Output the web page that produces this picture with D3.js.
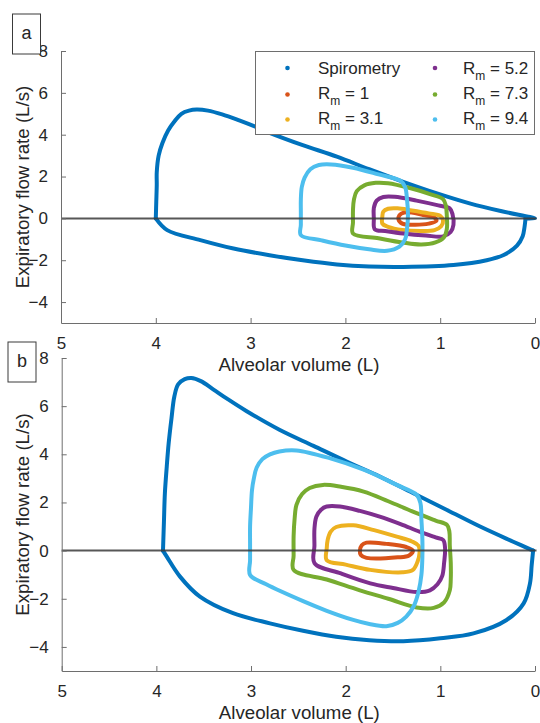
<!DOCTYPE html>
<html>
<head>
<meta charset="utf-8">
<script src="https://cdn.jsdelivr.net/npm/d3@7"></script>
<style>
  html, body { margin: 0; padding: 0; background: #fff; }
  svg { display: block; font-family: "Liberation Sans", Arial, Helvetica, sans-serif; }
</style>
</head>
<body>
<svg id="chart" width="540" height="723"></svg>
<script>
// Axis ticks
const volumeTicks = [5, 4, 3, 2, 1, 0];
const flowTicks = [-4, -2, 0, 2, 4, 6, 8];

// Legend entries (R_m values for the model loops)
const seriesNames = ["Spirometry", "1", "3.1", "5.2", "7.3", "9.4"];
const seriesColors = ["#0072BD", "#D95319", "#EDB120", "#7E2F8E", "#77AC30", "#4DBEEE"];

// Panel a: spirometry, expiratory and inspiratory limbs [volume (L), flow (L/s)]
const spiroExpA = [[4.00,0],[3.995,0.8],[3.99,1.6],[3.99,2.2],[3.97,3.0],[3.93,3.6],[3.87,4.2],[3.80,4.65],[3.73,5.0],[3.65,5.15],[3.57,5.2],[3.45,5.15],[3.30,4.97],[3.12,4.68],[2.95,4.38],[2.80,4.09],[2.45,3.5],[2.09,2.95],[1.75,2.35],[1.39,1.75],[1.05,1.22],[0.69,0.72],[0.35,0.34],[0.0,0.0],[0.10,0.0]];
const spiroInspA = [[0.10,0.0],[0.11,-0.4],[0.13,-0.85],[0.19,-1.3],[0.33,-1.75],[0.51,-2.0],[0.86,-2.23],[1.39,-2.32],[1.75,-2.3],[2.09,-2.2],[2.45,-2.0],[2.80,-1.76],[3.18,-1.44],[3.53,-1.04],[3.88,-0.56],[4.00,0]];
// Panel a: model loops
const rm1A = [[1.44,-0.05],[1.43,0.15],[1.38,0.28],[1.30,0.28],[1.18,0.16],[1.06,0.04],[1.04,-0.12],[1.12,-0.25],[1.28,-0.3],[1.40,-0.25]];
const rm31A = [[1.61,-0.25],[1.61,0.1],[1.60,0.32],[1.55,0.46],[1.45,0.48],[1.30,0.38],[1.12,0.24],[1.0,0.12],[0.97,-0.1],[0.99,-0.38],[1.06,-0.56],[1.2,-0.6],[1.4,-0.55],[1.55,-0.4]];
const rm52A = [[1.69,-0.52],[1.70,0],[1.70,0.5],[1.67,0.85],[1.60,1.02],[1.48,1.03],[1.25,0.85],[1.02,0.62],[0.90,0.48],[0.87,0.2],[0.86,-0.3],[0.89,-0.65],[0.97,-0.86],[1.15,-0.82],[1.39,-0.72],[1.58,-0.6]];
const rm73A = [[1.92,-0.72],[1.92,-0.2],[1.92,0.4],[1.91,0.9],[1.88,1.3],[1.80,1.58],[1.68,1.7],[1.55,1.68],[1.32,1.45],[1.10,1.15],[0.97,0.92],[0.94,0.6],[0.93,0.1],[0.93,-0.5],[0.96,-0.9],[1.05,-1.15],[1.2,-1.25],[1.4,-1.15],[1.65,-0.95]];
const rm94A = [[2.47,-0.8],[2.47,-0.3],[2.47,0.3],[2.47,0.9],[2.46,1.5],[2.43,1.95],[2.37,2.35],[2.28,2.55],[2.15,2.58],[1.92,2.42],[1.65,2.1],[1.42,1.8],[1.37,1.5],[1.35,0.9],[1.34,0.2],[1.35,-0.5],[1.37,-1.0],[1.43,-1.35],[1.56,-1.55],[1.75,-1.48],[2.0,-1.3],[2.25,-1.05]];

// Panel b: spirometry limbs
const spiroExpB = [[3.93,0],[3.92,1.2],[3.91,2.38],[3.89,3.5],[3.87,4.46],[3.84,5.5],[3.81,6.4],[3.77,6.9],[3.70,7.12],[3.63,7.17],[3.53,7.04],[3.40,6.7],[3.25,6.3],[3.05,5.8],[2.70,5.02],[2.34,4.35],[1.99,3.7],[1.64,3.08],[1.29,2.39],[0.93,1.69],[0.58,1.0],[0.23,0.37],[0.02,0]];
const spiroInspB = [[0.02,0],[0.035,-0.6],[0.053,-1.36],[0.12,-2.19],[0.30,-2.88],[0.65,-3.44],[1.0,-3.64],[1.39,-3.76],[1.75,-3.72],[2.10,-3.58],[2.45,-3.33],[2.80,-3.02],[3.19,-2.6],[3.54,-1.91],[3.75,-1.08],[3.89,-0.25],[3.93,0]];
// Panel b: model loops
const rm1B = [[1.85,0],[1.83,0.22],[1.78,0.33],[1.57,0.28],[1.36,0.15],[1.29,0],[1.33,-0.2],[1.45,-0.28],[1.78,-0.3],[1.84,-0.18]];
const rm31B = [[2.20,-0.4],[2.20,0.1],[2.19,0.45],[2.16,0.78],[2.10,0.98],[1.92,1.05],[1.70,0.85],[1.46,0.58],[1.30,0.38],[1.23,0.2],[1.22,-0.1],[1.24,-0.45],[1.29,-0.8],[1.40,-0.9],[1.74,-0.8],[2.0,-0.58]];
const rm52B = [[2.33,-0.52],[2.33,0.2],[2.33,0.9],[2.31,1.41],[2.26,1.7],[2.20,1.83],[2.06,1.83],[1.85,1.65],[1.64,1.41],[1.42,1.1],[1.22,0.79],[1.05,0.55],[0.97,0.44],[0.95,0.1],[0.96,-0.5],[0.98,-1.05],[1.03,-1.4],[1.11,-1.65],[1.25,-1.72],[1.5,-1.55],[1.74,-1.36],[2.05,-0.95]];
const rm73B = [[2.55,-0.8],[2.55,-0.2],[2.55,0.6],[2.54,1.3],[2.52,1.9],[2.46,2.35],[2.38,2.6],[2.24,2.73],[2.05,2.65],[1.81,2.45],[1.55,2.05],[1.29,1.62],[1.05,1.25],[0.93,1.07],[0.905,0.8],[0.90,0.2],[0.89,-0.5],[0.89,-1.2],[0.90,-1.65],[0.96,-2.15],[1.07,-2.38],[1.25,-2.36],[1.55,-2.0],[1.85,-1.65],[2.2,-1.2]];
const rm94B = [[3.01,-1.01],[3.01,-0.4],[3.01,0.3],[3.01,1.0],[3.0,1.8],[2.99,2.5],[2.97,3.0],[2.94,3.45],[2.88,3.8],[2.80,4.0],[2.70,4.12],[2.52,4.16],[2.17,3.84],[1.81,3.36],[1.46,2.73],[1.25,2.32],[1.21,1.97],[1.20,1.3],[1.19,0.5],[1.19,-0.3],[1.20,-1.0],[1.23,-1.7],[1.28,-2.3],[1.36,-2.74],[1.45,-3.0],[1.57,-3.14],[1.75,-3.05],[1.92,-2.88],[2.2,-2.5],[2.45,-2.1],[2.84,-1.4]];

const svg = d3.select("#chart");
const axisColor = "#6e6e6e";
const textColor = "#262626";
const fmt = d3.format("d");

function drawPanel(cfg) {
  const x = d3.scaleLinear().domain([5, 0]).range([cfg.left, cfg.right]);
  const y = d3.scaleLinear().domain([-5, 8]).range([cfg.bottom, cfg.top]);
  const g = svg.append("g");

  const openLine = d3.line().x(d => x(d[0])).y(d => y(d[1])).curve(d3.curveCatmullRom.alpha(0.5));
  const closedLine = d3.line().x(d => x(d[0])).y(d => y(d[1])).curve(d3.curveCatmullRomClosed.alpha(0.5));
  const styled = p => p.attr("fill", "none").attr("stroke-width", 4)
    .attr("stroke-linejoin", "round").attr("stroke-linecap", "round");

  // Spirometry: two limbs meeting at sharp corners
  cfg.spiro.forEach(limb => {
    g.append("path").attr("d", openLine(limb)).attr("stroke", seriesColors[0]).call(styled);
  });
  // Model loops, in legend order
  cfg.loops.forEach((s, i) => {
    g.append("path").attr("d", closedLine(s)).attr("stroke", seriesColors[i + 1]).call(styled);
  });

  // Zero-flow reference line
  g.append("line")
    .attr("x1", x(5)).attr("x2", x(0) + 1.5)
    .attr("y1", y(0)).attr("y2", y(0))
    .attr("stroke", "#3a3a3a").attr("stroke-opacity", 0.85).attr("stroke-width", 2);

  // Bottom axis (ticks point inward)
  const xAxis = d3.axisBottom(x).tickValues(volumeTicks).tickFormat(fmt)
    .tickSizeInner(-5).tickSizeOuter(0).tickPadding(14);
  const gx = g.append("g").attr("transform", `translate(0,${cfg.bottom})`).call(xAxis);
  gx.select(".domain").attr("stroke", axisColor);
  gx.selectAll(".tick line").attr("stroke", axisColor);
  gx.selectAll(".tick text").attr("fill", textColor).attr("font-size", 17)
    .attr("font-family", "Liberation Sans, Arial, sans-serif");

  // Left axis
  const yAxis = d3.axisLeft(y).tickValues(flowTicks).tickFormat(fmt)
    .tickSizeInner(-5).tickSizeOuter(0).tickPadding(13);
  const gy = g.append("g").attr("transform", `translate(${cfg.left},0)`).call(yAxis);
  gy.select(".domain").attr("stroke", axisColor);
  gy.selectAll(".tick line").attr("stroke", axisColor);
  gy.selectAll(".tick text").attr("fill", textColor).attr("font-size", 17)
    .attr("font-family", "Liberation Sans, Arial, sans-serif");

  // Axis titles
  g.append("text")
    .attr("x", (cfg.left + cfg.right) / 2 + 1).attr("y", cfg.bottom + 48)
    .attr("text-anchor", "middle").attr("font-size", 18.7).attr("fill", textColor)
    .text("Alveolar volume (L)");
  g.append("text")
    .attr("transform", `translate(29,${(cfg.top + cfg.bottom) / 2}) rotate(-90)`)
    .attr("text-anchor", "middle").attr("font-size", 18.7).attr("fill", textColor)
    .text("Expiratory flow rate (L/s)");

  // Panel letter box
  g.append("rect")
    .attr("x", cfg.box[0]).attr("y", cfg.box[1]).attr("width", 28).attr("height", 40)
    .attr("fill", "#fff").attr("stroke", "#3a3a3a").attr("stroke-width", 1);
  g.append("text")
    .attr("x", cfg.box[0] + 14).attr("y", cfg.box[1] + 25)
    .attr("text-anchor", "middle").attr("font-size", 18).attr("fill", textColor)
    .text(cfg.letter);

  return g;
}

drawPanel({
  left: 61, right: 535, top: 51, bottom: 323,
  spiro: [spiroExpA, spiroInspA],
  loops: [rm1A, rm31A, rm52A, rm73A, rm94A],
  box: [12.5, 14], letter: "a"
});

drawPanel({
  left: 61.7, right: 535, top: 358, bottom: 671,
  spiro: [spiroExpB, spiroInspB],
  loops: [rm1B, rm31B, rm52B, rm73B, rm94B],
  box: [8, 342], letter: "b"
});

// Legend (two columns, column-major order)
const legend = svg.append("g");
legend.append("rect")
  .attr("x", 255.5).attr("y", 51.5).attr("width", 279).attr("height", 83)
  .attr("fill", "#fff").attr("stroke", "#6e6e6e").attr("stroke-width", 1);

const colMarkerX = [287.5, 435];
const colTextX = [318, 463];
const rowY = [68, 93, 118];
seriesNames.forEach((name, i) => {
  const col = Math.floor(i / 3), row = i % 3;
  const cy = rowY[row];
  legend.append("circle")
    .attr("cx", colMarkerX[col]).attr("cy", row === 0 ? cy : cy + 1.5).attr("r", 2.3)
    .attr("fill", seriesColors[i]);
  const t = legend.append("text")
    .attr("x", colTextX[col]).attr("y", cy + 6)
    .attr("font-size", 17).attr("fill", textColor);
  if (i === 0) {
    t.text(name);
  } else {
    t.append("tspan").text("R");
    t.append("tspan").attr("font-size", 12).attr("dy", 6).text("m");
    t.append("tspan").attr("dy", -6).text(" = " + name);
  }
});
</script>
</body>
</html>
